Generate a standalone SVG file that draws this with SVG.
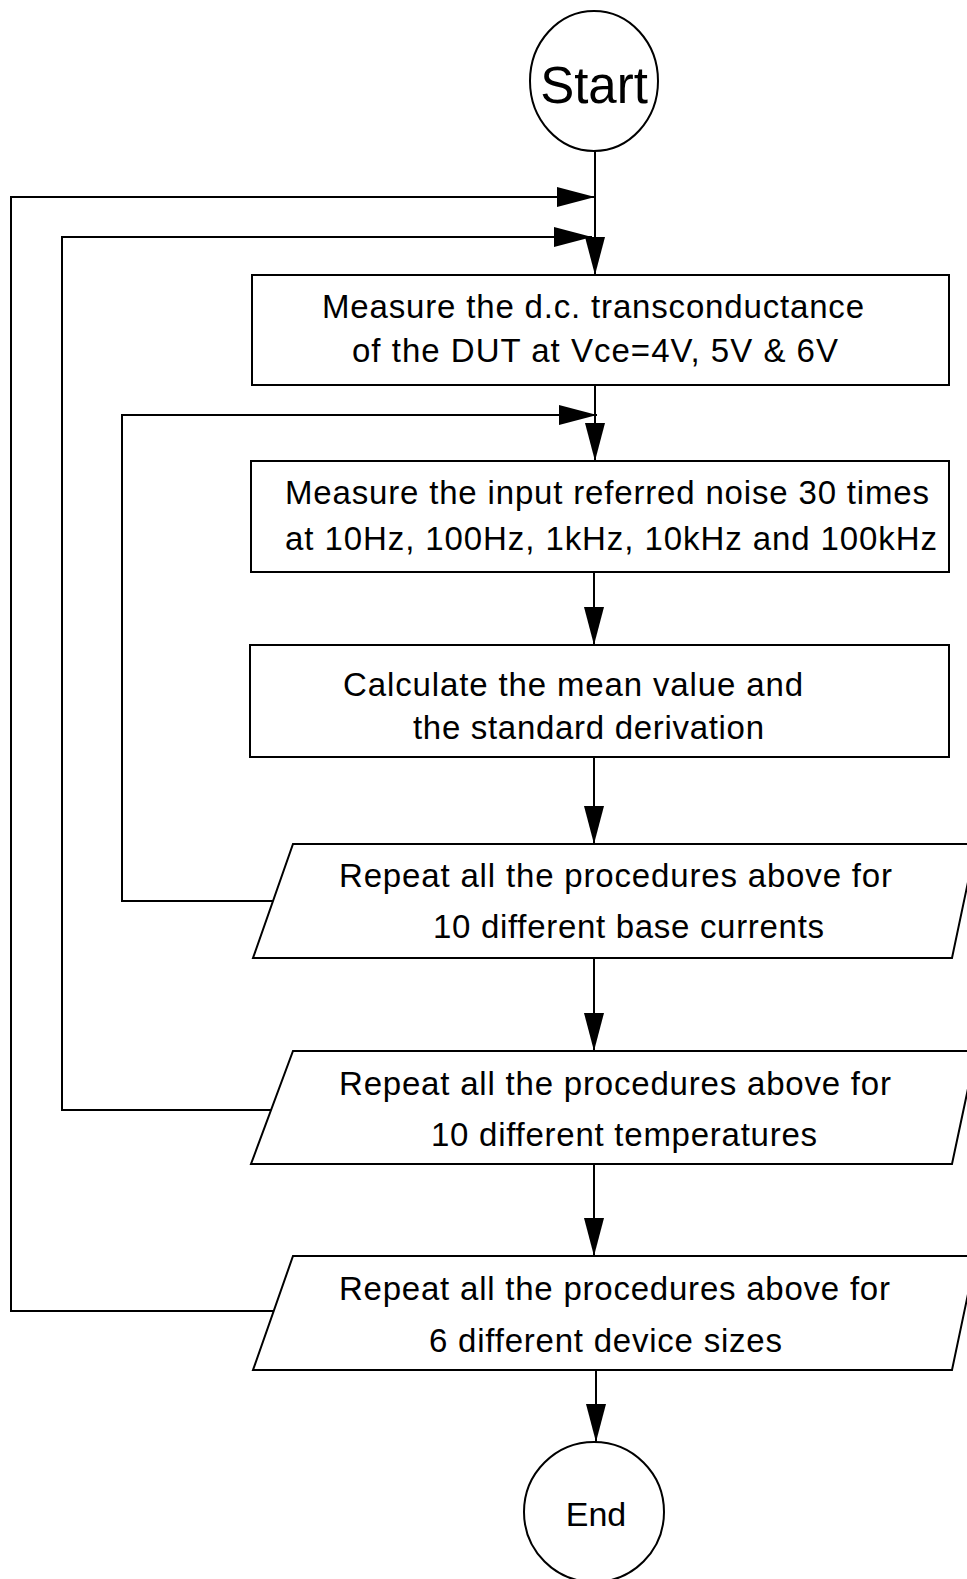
<svg xmlns="http://www.w3.org/2000/svg" width="967" height="1579" viewBox="0 0 967 1579">
<style>
.s{fill:#fff;stroke:#000;stroke-width:2}
.c{fill:none;stroke:#000;stroke-width:2}
.ah{fill:#000;stroke:none}
text{font-family:"Liberation Sans",Arial,sans-serif;fill:#000}
.t{font-size:33px}
</style>
<rect width="967" height="1579" fill="#fff"/>
<g id="connectors">
<line class="c" x1="595" y1="151" x2="595" y2="275"/>
<polyline class="c" points="274,1311 11,1311 11,197 595,197"/>
<polyline class="c" points="272,1110 62,1110 62,237 592,237"/>
<polyline class="c" points="273,901 122,901 122,415 597,415"/>
<line class="c" x1="595" y1="385" x2="595" y2="461"/>
<line class="c" x1="594" y1="572" x2="594" y2="645"/>
<line class="c" x1="594" y1="757" x2="594" y2="844"/>
<line class="c" x1="594" y1="958" x2="594" y2="1051"/>
<line class="c" x1="594" y1="1164" x2="594" y2="1256"/>
<line class="c" x1="596" y1="1370" x2="596" y2="1442"/>
<polygon class="ah" points="595,197 557,187 557,207"/>
<polygon class="ah" points="592,237 554,227 554,247"/>
<polygon class="ah" points="597,415 559,405 559,425"/>
<polygon class="ah" points="595,275 585,237 605,237"/>
<polygon class="ah" points="595,461 585,423 605,423"/>
<polygon class="ah" points="594,645 584,607 604,607"/>
<polygon class="ah" points="594,844 584,806 604,806"/>
<polygon class="ah" points="594,1051 584,1013 604,1013"/>
<polygon class="ah" points="594,1256 584,1218 604,1218"/>
<polygon class="ah" points="596,1442 586,1404 606,1404"/>
</g>
<g id="start">
<ellipse class="s" cx="594" cy="81" rx="64" ry="70"/>
<text x="594" y="103" font-size="51" text-anchor="middle">Start</text>
</g>
<g id="box1">
<rect class="s" x="252" y="275" width="697" height="110"/>
<text class="t" x="322" y="318" textLength="542" lengthAdjust="spacing">Measure the d.c. transconductance</text>
<text class="t" x="352" y="362" textLength="486" lengthAdjust="spacing">of the DUT at Vce=4V, 5V &amp; 6V</text>
</g>
<g id="box2">
<rect class="s" x="251" y="461" width="698" height="111"/>
<text class="t" x="285" y="504" textLength="644" lengthAdjust="spacing">Measure the input referred noise 30 times</text>
<text class="t" x="285" y="550" textLength="652" lengthAdjust="spacing">at 10Hz, 100Hz, 1kHz, 10kHz and 100kHz</text>
</g>
<g id="box3">
<rect class="s" x="250" y="645" width="699" height="112"/>
<text class="t" x="343" y="696" textLength="460" lengthAdjust="spacing">Calculate the mean value and</text>
<text class="t" x="413" y="739" textLength="351" lengthAdjust="spacing">the standard derivation</text>
</g>
<g id="repeat1">
<polygon class="s" points="293,844 976,844 952,958 253,958"/>
<text class="t" x="339" y="887" textLength="553" lengthAdjust="spacing">Repeat all the procedures above for</text>
<text class="t" x="433" y="938" textLength="391" lengthAdjust="spacing">10 different base currents</text>
</g>
<g id="repeat2">
<polygon class="s" points="293,1051 976,1051 952,1164 251,1164"/>
<text class="t" x="339" y="1095" textLength="552" lengthAdjust="spacing">Repeat all the procedures above for</text>
<text class="t" x="431" y="1146" textLength="386" lengthAdjust="spacing">10 different temperatures</text>
</g>
<g id="repeat3">
<polygon class="s" points="293,1256 976,1256 952,1370 253,1370"/>
<text class="t" x="339" y="1300" textLength="551" lengthAdjust="spacing">Repeat all the procedures above for</text>
<text class="t" x="429" y="1352" textLength="353" lengthAdjust="spacing">6 different device sizes</text>
</g>
<g id="end">
<ellipse class="s" cx="594" cy="1512" rx="70" ry="70"/>
<text x="596" y="1526" font-size="34" text-anchor="middle">End</text>
</g>
</svg>
